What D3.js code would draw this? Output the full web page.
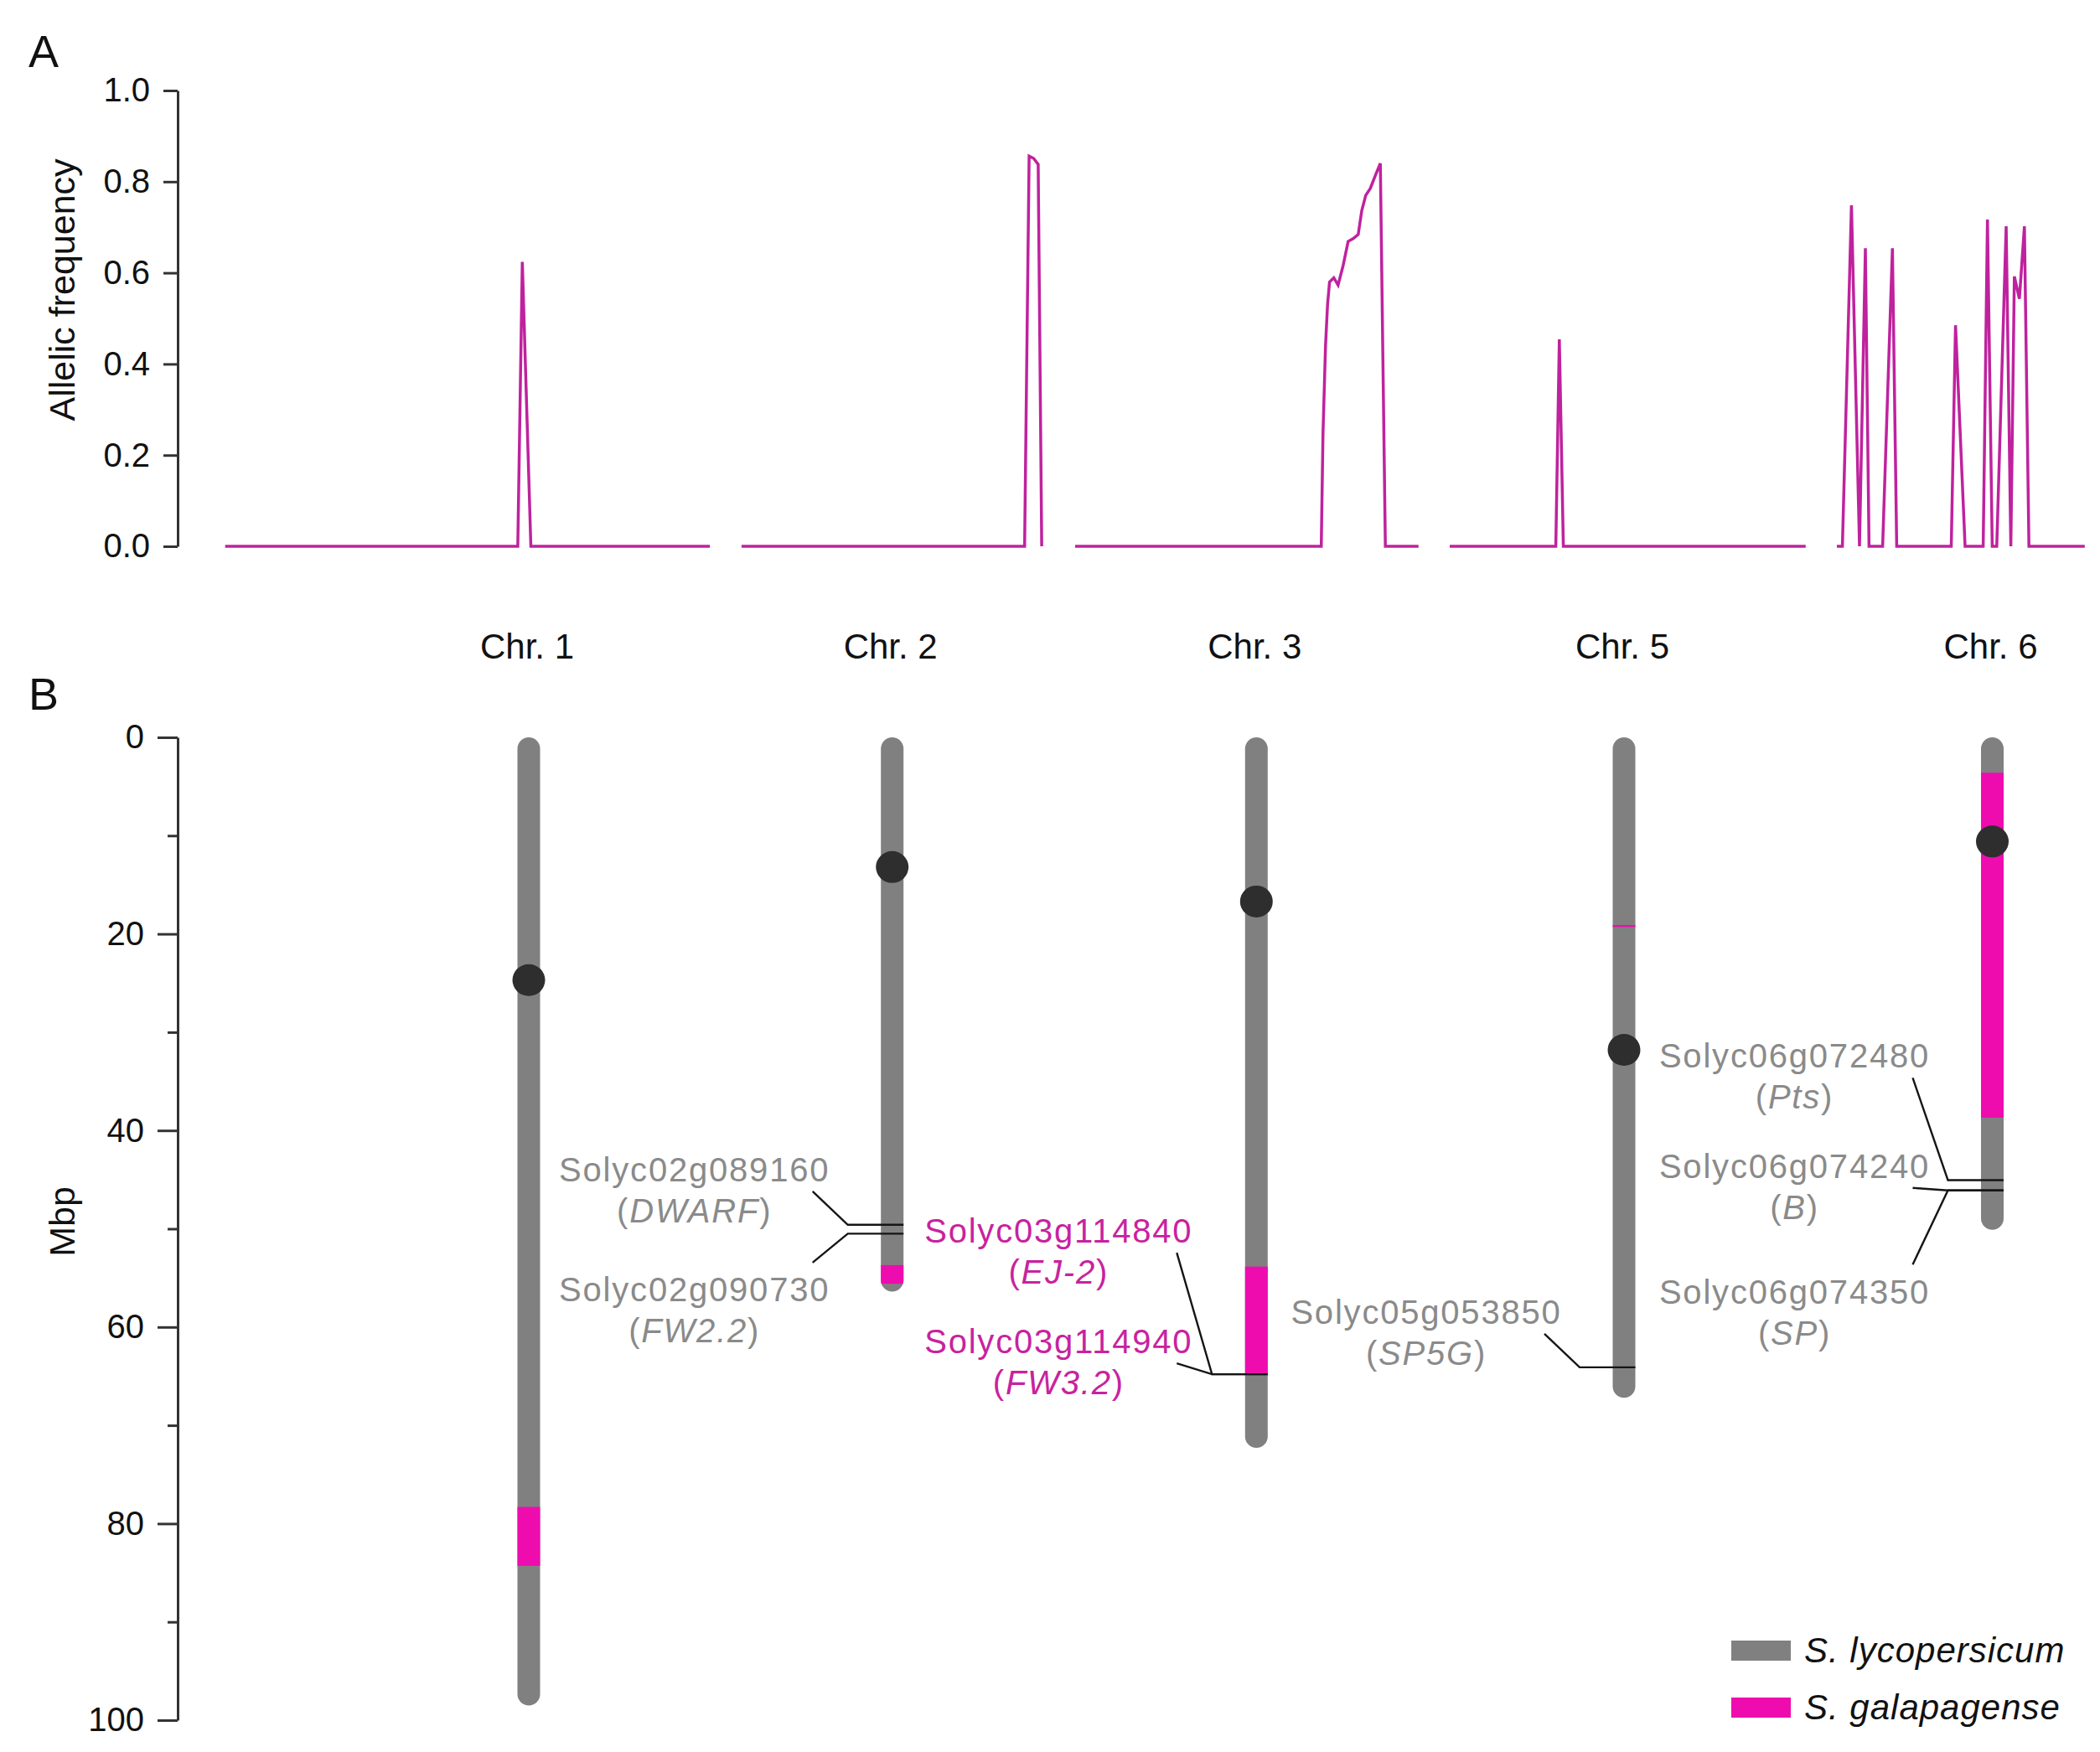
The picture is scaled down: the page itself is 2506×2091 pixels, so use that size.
<!DOCTYPE html>
<html>
<head>
<meta charset="utf-8">
<script src="https://cdn.jsdelivr.net/npm/d3@7"></script>
<style>
  html, body { margin: 0; padding: 0; background: #ffffff; }
  svg { display: block; }
  text { font-family: "Liberation Sans", Arial, Helvetica, sans-serif; }
</style>
</head>
<body>
<svg id="chart" width="2506" height="2091"></svg>
<script>
// ---------------- DATA ----------------
// Panel A: allelic frequency along each chromosome (position within chromosome, frequency)
const chromNames = ["Chr. 1", "Chr. 2", "Chr. 3", "Chr. 5", "Chr. 6"];
// start of each chromosome on the concatenated genome axis of panel A
const chromOffsetsA = [0, 102.7, 169.05, 243.55, 320.55];
const freqChr1 = [[0,0],[58.2,0],[59.1,0.624],[60.8,0],[96.4,0]];
const freqChr2 = [[0,0],[56.3,0],[57.2,0.856],[58.1,0.851],[59.0,0.838],[59.7,0]];
const freqChr3 = [[0,0],[48.95,0],[49.3,0.25],[49.8,0.44],[50.2,0.53],[50.6,0.58],[51.45,0.589],[52.3,0.573],
                  [53.3,0.616],[54.3,0.669],[55.3,0.675],[56.3,0.684],[57.0,0.736],[57.8,0.77],[58.7,0.785],
                  [59.8,0.816],[60.7,0.84],[61.7,0],[68.3,0]];
const freqChr5 = [[0,0],[21.1,0],[21.8,0.454],[22.6,0],[70.8,0]];
const freqChr6 = [[0,0],[1.1,0],[2.9,0.748],[4.5,0],[5.67,0.654],[6.4,0],[9.1,0],[11.05,0.654],[11.9,0],
                  [22.75,0],[23.6,0.485],[25.5,0],[29.1,0],[29.95,0.717],[30.9,0],[31.8,0],[33.67,0.702],
                  [34.6,0],[35.3,0.592],[36.3,0.543],[37.3,0.702],[38.2,0],[49.3,0]];
const freqSeries = [freqChr1, freqChr2, freqChr3, freqChr5, freqChr6];
const freqTicks = [0, 0.2, 0.4, 0.6, 0.8, 1.0];

// Panel B: chromosomes (Mbp)
const chromLengths = [98.5, 56.4, 72.3, 67.2, 50.1];
const centromeres = [24.7, 13.2, 16.7, 31.8, 10.6];
const introgressions = [
  {chrom: "Chr. 1", start: 78.3, end: 84.3},
  {chrom: "Chr. 2", start: 53.7, end: 55.6},
  {chrom: "Chr. 3", start: 53.85, end: 64.8},
  {chrom: "Chr. 5", start: 19.1, end: 19.3},
  {chrom: "Chr. 6", start: 3.6, end: 38.7}
];
const mbpTicks = [0, 20, 40, 60, 80, 100];
const mbpMinorTicks = [10, 30, 50, 70, 90];

// Genes
const geneIds    = ["Solyc02g089160","Solyc02g090730","Solyc03g114840","Solyc03g114940","Solyc05g053850","Solyc06g072480","Solyc06g074240","Solyc06g074350"];
const geneNames  = ["DWARF","FW2.2","EJ-2","FW3.2","SP5G","Pts","B","SP"];
const geneChroms = ["Chr. 2","Chr. 2","Chr. 3","Chr. 3","Chr. 5","Chr. 6","Chr. 6","Chr. 6"];
const genePos    = [49.6, 50.5, 64.8, 64.8, 64.1, 45.05, 46.1, 46.1];
const geneInIntrogression = [false, false, true, true, false, false, false, false];

const legendLabels = ["S. lycopersicum", "S. galapagense"];

// ---------------- LAYOUT / STYLE ----------------
const COL_LINE = "#bf229e";
const COL_GREY = "#808080";
const COL_PINK = "#ee0caf";
const COL_CEN = "#2e2e2e";
const COL_AXIS = "#333333";
const COL_LABEL_GREY = "#8a8a8a";
const COL_LABEL_PINK = "#c8229f";
const chromColumnX = [631, 1064.7, 1499.3, 1938, 2377.5];

// label placement (baseline of first line relative to gene line; leader end type)
const labelLayout = {
  "Solyc02g089160": {dy: -52, below: false},
  "Solyc02g090730": {dy: 81, below: true},
  "Solyc03g114840": {dy: -157, below: false},
  "Solyc03g114940": {dy: -25, below: false},
  "Solyc05g053850": {dy: -52, below: false},
  "Solyc06g072480": {dy: -134, below: false},
  "Solyc06g074240": {dy: -15, below: false},
  "Solyc06g074350": {dy: 135, below: true}
};

const svg = d3.select("#chart");

// ---------------- PANEL A ----------------
const axisX = 212;
const xA = d3.scaleLinear().domain([0, 370]).range([268.7, 268.7 + 6 * 370]);
const yA = d3.scaleLinear().domain([0, 1]).range([652, 108]);

svg.append("text").attr("x", 34).attr("y", 80).attr("font-size", 54).attr("fill", "#111").text("A");

const gAxisA = svg.append("g").attr("transform", `translate(${axisX},0)`)
  .call(d3.axisLeft(yA).tickValues(freqTicks).tickFormat(d3.format(".1f")).tickSize(17).tickSizeOuter(0).tickPadding(16));
gAxisA.select(".domain").attr("stroke", COL_AXIS).attr("stroke-width", 3);
gAxisA.selectAll(".tick line").attr("stroke", COL_AXIS).attr("stroke-width", 3);
gAxisA.selectAll(".tick text").attr("font-size", 40).attr("fill", "#111")
  .attr("font-family", '"Liberation Sans", Arial, sans-serif');

svg.append("text").attr("transform", "translate(89,346) rotate(-90)")
  .attr("text-anchor", "middle").attr("font-size", 43).attr("fill", "#111").text("Allelic frequency");

const lineA = d3.line().x(d => xA(d[0])).y(d => yA(d[1]));
freqSeries.forEach((series, i) => {
  const off = chromOffsetsA[i];
  svg.append("path")
    .datum(series.map(d => [d[0] + off, d[1]]))
    .attr("d", lineA)
    .attr("fill", "none")
    .attr("stroke", COL_LINE)
    .attr("stroke-width", 3.5)
    .attr("stroke-linejoin", "miter");
});

// ---------------- PANEL B ----------------
const xB = d3.scaleOrdinal().domain(chromNames).range(chromColumnX);
const yB = d3.scaleLinear().domain([0, 100]).range([880, 2053]);
const chrW = 27;

svg.append("text").attr("x", 34).attr("y", 847).attr("font-size", 54).attr("fill", "#111").text("B");

// chromosome titles
chromNames.forEach(n => {
  svg.append("text").attr("x", xB(n) - 2).attr("y", 786).attr("text-anchor", "middle")
    .attr("font-size", 42).attr("fill", "#111").text(n);
});

const gAxisB = svg.append("g").attr("transform", `translate(${axisX},0)`)
  .call(d3.axisLeft(yB).tickValues(mbpTicks).tickFormat(d3.format("d")).tickSize(24).tickSizeOuter(0).tickPadding(16));
gAxisB.select(".domain").attr("stroke", COL_AXIS).attr("stroke-width", 3);
gAxisB.selectAll(".tick line").attr("stroke", COL_AXIS).attr("stroke-width", 3);
gAxisB.selectAll(".tick text").attr("font-size", 40).attr("fill", "#111")
  .attr("font-family", '"Liberation Sans", Arial, sans-serif');
const gAxisBm = svg.append("g").attr("transform", `translate(${axisX},0)`)
  .call(d3.axisLeft(yB).tickValues(mbpMinorTicks).tickFormat("").tickSize(12).tickSizeOuter(0));
gAxisBm.select(".domain").remove();
gAxisBm.selectAll(".tick line").attr("stroke", COL_AXIS).attr("stroke-width", 3);

svg.append("text").attr("transform", "translate(89,1458) rotate(-90)")
  .attr("text-anchor", "middle").attr("font-size", 43).attr("fill", "#111").text("Mbp");

const defs = svg.append("defs");
chromNames.forEach((n, i) => {
  const cx = xB(n);
  const len = chromLengths[i];
  const cen = centromeres[i];
  const arms = [[0, cen], [cen, len]];
  const clip = defs.append("clipPath").attr("id", "clip" + i);
  arms.forEach(a => {
    clip.append("rect").attr("x", cx - chrW / 2).attr("y", yB(a[0]))
      .attr("width", chrW).attr("height", yB(a[1]) - yB(a[0]))
      .attr("rx", chrW / 2).attr("ry", chrW / 2);
  });
  const g = svg.append("g");
  arms.forEach(a => {
    g.append("rect").attr("x", cx - chrW / 2).attr("y", yB(a[0]))
      .attr("width", chrW).attr("height", yB(a[1]) - yB(a[0]))
      .attr("rx", chrW / 2).attr("ry", chrW / 2).attr("fill", COL_GREY);
  });
  const gi = g.append("g").attr("clip-path", `url(#clip${i})`);
  introgressions.filter(r => r.chrom === n).forEach(r => {
    gi.append("rect").attr("x", cx - chrW / 2 - 1).attr("y", yB(r.start))
      .attr("width", chrW + 2).attr("height", Math.max(2, yB(r.end) - yB(r.start)))
      .attr("fill", COL_PINK);
  });
  g.append("ellipse").attr("cx", cx).attr("cy", yB(cen)).attr("rx", 19.5).attr("ry", 19)
    .attr("fill", COL_CEN);
});

// gene markers and labels
geneIds.forEach((id, i) => {
  const n = geneChroms[i];
  const cx = xB(n);
  const gy = yB(genePos[i]);
  const L = labelLayout[id];
  const baseY = gy + L.dy;
  const endY = L.below ? baseY - 46.5 : baseY + 12;
  const jx = cx - 53, ex = cx - 95;
  svg.append("path")
    .attr("d", `M${cx + chrW / 2},${gy} L${jx},${gy} L${ex},${endY}`)
    .attr("fill", "none").attr("stroke", "#151515").attr("stroke-width", 2.4);
  const col = geneInIntrogression[i] ? COL_LABEL_PINK : COL_LABEL_GREY;
  const t = svg.append("text").attr("text-anchor", "middle").attr("font-size", 40)
    .attr("fill", col).attr("letter-spacing", 1.8);
  t.append("tspan").attr("x", cx - 236).attr("y", baseY).text(id);
  const t2 = svg.append("text").attr("text-anchor", "middle").attr("font-size", 40)
    .attr("fill", col).attr("letter-spacing", 1.8).attr("x", cx - 236).attr("y", baseY + 49);
  t2.append("tspan").text("(");
  t2.append("tspan").attr("font-style", "italic").text(geneNames[i]);
  t2.append("tspan").text(")");
});

// legend
const legendColors = [COL_GREY, COL_PINK];
legendLabels.forEach((lab, i) => {
  const y = 1958 + i * 68;
  svg.append("rect").attr("x", 2066).attr("y", y).attr("width", 71).attr("height", 24).attr("fill", legendColors[i]);
  svg.append("text").attr("x", 2153).attr("y", y + 26).attr("font-size", 42)
    .attr("font-style", "italic").attr("fill", "#111").attr("letter-spacing", 1).text(lab);
});
</script>
</body>
</html>
